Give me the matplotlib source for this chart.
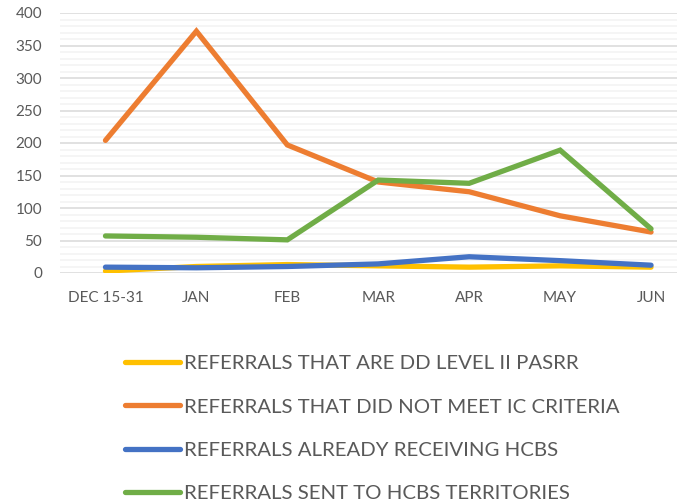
import matplotlib
matplotlib.use("Agg")
import matplotlib.pyplot as plt
from matplotlib.ticker import MultipleLocator

months = ["DEC 15-31", "JAN", "FEB", "MAR", "APR", "MAY", "JUN"]

dd_level_ii = [3, 10, 13, 11, 9, 11, 9]
not_meet_ic = [204, 372, 197, 140, 125, 88, 63]
already_hcbs = [9, 8, 10, 14, 25, 19, 12]
sent_territories = [57, 55, 51, 143, 138, 189, 68]

labels = ["REFERRALS THAT ARE DD LEVEL II PASRR",
          "REFERRALS THAT DID NOT MEET IC CRITERIA",
          "REFERRALS ALREADY RECEIVING HCBS",
          "REFERRALS SENT TO HCBS TERRITORIES"]
colors = ["#FFC000", "#ED7D31", "#4472C4", "#70AD47"]

plt.rcParams['font.family'] = ['Lato', 'DejaVu Sans']
text_color = "#595959"

fig = plt.figure(figsize=(6.77, 5.03), dpi=100)
# category axis: half a slot on each side, runs past the right edge
ax = fig.add_axes([60 / 677, 1 - 273 / 503, 636.5 / 677, 260 / 503])

x = list(range(len(months)))
series = [dd_level_ii, not_meet_ic, already_hcbs, sent_territories]
for vals, lab, col in zip(series, labels, colors):
    ax.plot(x, vals, color=col, lw=3.8, solid_capstyle='round',
            solid_joinstyle='miter', label=lab)

ax.set_xlim(-0.5, len(months) - 0.5)
ax.set_ylim(0, 400)
ax.yaxis.set_major_locator(MultipleLocator(50))
ax.yaxis.set_minor_locator(MultipleLocator(10))
ax.set_xticks(x)
ax.set_xticklabels(months)

ax.grid(axis='y', which='minor', color='#f2f2f2', lw=1.1, zorder=0)
ax.grid(axis='y', which='major', color='#d9d9d9', lw=1.1, zorder=0)
ax.set_axisbelow(True)
for s in ax.spines.values():
    s.set_visible(False)
ax.tick_params(which='both', length=0)
ax.tick_params(axis='y', pad=13, labelsize=11, labelcolor=text_color)
ax.tick_params(axis='x', pad=13, labelsize=11, labelcolor=text_color)

leg = fig.legend(loc='upper left', bbox_to_anchor=(125 / 677, 1 - 355 / 503),
                 frameon=False, fontsize=14.7, handlelength=2.7,
                 handletextpad=0.2, labelspacing=1.27, borderpad=0,
                 borderaxespad=0)
for t in leg.get_texts():
    t.set_color(text_color)
for h in leg.get_lines():
    h.set_linewidth(3.8)
    h.set_solid_capstyle('round')

fig.savefig("out.png", dpi=100)
